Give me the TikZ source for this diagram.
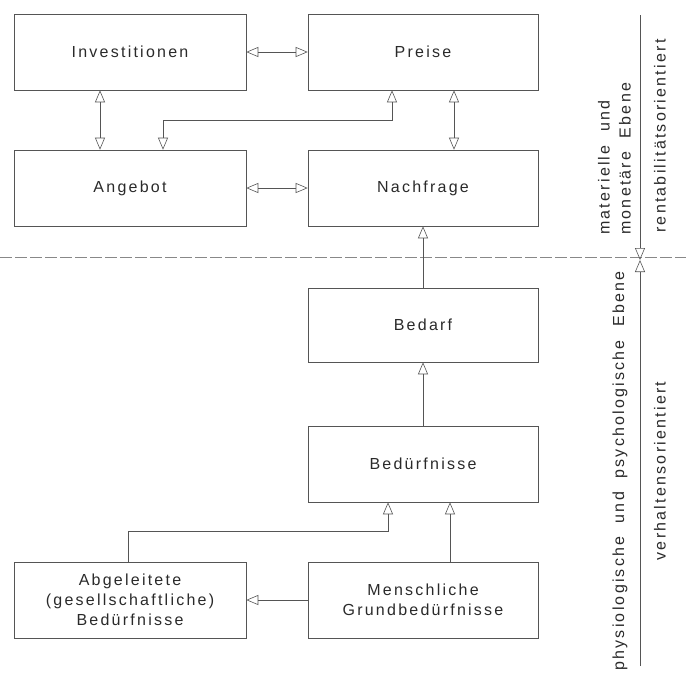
\documentclass[tikz,border=0pt]{standalone}
\usepackage{fontspec}
\setmainfont{Liberation Sans}[LetterSpace=14]
\usetikzlibrary{arrows.meta}
\definecolor{ink}{HTML}{2A2A2A}
\definecolor{ln}{HTML}{555555}
\tikzset{
  tri/.tip={Triangle[open,length=12pt,width=10pt,line width=0.6pt]},
  box/.style={draw=ln,line width=0.6pt,rectangle,inner sep=0pt,align=center,
    text=ink,font=\fontsize{16}{20}\selectfont},
  lbox/.style={box,minimum width=232pt,minimum height=76pt},
  rbox/.style={box,minimum width=230pt,minimum height=76pt},
  con/.style={draw=ln,line width=0.5pt},
  one/.style={con,-tri},
  two/.style={con,tri-tri},
  side/.style={rotate=90,text=ink,font=\fontsize{16}{20}\selectfont,inner sep=0pt},
  level/.style={draw=ln!70,line width=0.5pt,dash pattern=on 12pt off 3pt}
}
\begin{document}
\begin{tikzpicture}[x=1pt,y=-1pt]
\useasboundingbox (0,0) rectangle (686,673);
% boxes
\node[lbox] (inv) at (130,52) {Investitionen};
\node[rbox] (pre) at (423,52) {Preise};
\node[lbox] (ang) at (130,188) {Angebot};
\node[rbox] (nach) at (423,188) {Nachfrage};
\node[rbox,minimum height=74pt] (bed) at (423,325) {Bedarf};
\node[rbox] (bdn) at (423,464) {Bedürfnisse};
\node[lbox] (abg) at (130,600) {Abgeleitete\\(gesellschaftliche)\\Bedürfnisse};
\node[rbox] (men) at (423,600) {Menschliche\\Grundbedürfnisse};
% level separator
\coordinate (dl) at (0,257);
\coordinate (dr) at (686,257);
\draw[level] (dl) -- (dr);
% connectors upper level
\draw[two] (inv.east) -- (pre.west);
\draw[two] (ang.east) -- (nach.west);
\draw[two] ([xshift=-30pt]inv.south) -- ([xshift=-30pt]ang.north);
\coordinate (pa) at (163,120);
\draw[two] ([xshift=-31pt]pre.south) |- (pa) -- ([xshift=33pt]ang.north);
\draw[two] ([xshift=31pt]pre.south) -- ([xshift=31pt]nach.north);
% connectors lower level
\draw[one] (bed.north) -- (nach.south);
\draw[one] (bdn.north) -- (bed.south);
\draw[one] ([xshift=27pt]men.north) -- ([xshift=27pt]bdn.south);
\coordinate (ab) at (388,531);
\draw[one] ([xshift=-2pt]abg.north) |- (ab) -- ([xshift=-35pt]bdn.south);
\draw[one] (men.west) -- (abg.east);
% right-hand scale
\coordinate (vt) at (640,15);
\coordinate (vm) at (640,260);
\coordinate (vb) at (640,666);
\draw[one] (vt) -- (vm);
\draw[one] (vb) -- (vm);
\node[side,anchor=west] (m1) at (604,235) {materielle\ \ und};
\node[side,anchor=west] (m2) at (625,235) {monetäre\ \ Ebene};
\node[side] (r1) at (660,136) {rentabilitätsorientiert};
\node[side] (p1) at (620,471) {physiologische\ \ und\ \ psychologische\ \ Ebene};
\node[side] (v1) at (660,471) {verhaltensorientiert};
\end{tikzpicture}
\end{document}
